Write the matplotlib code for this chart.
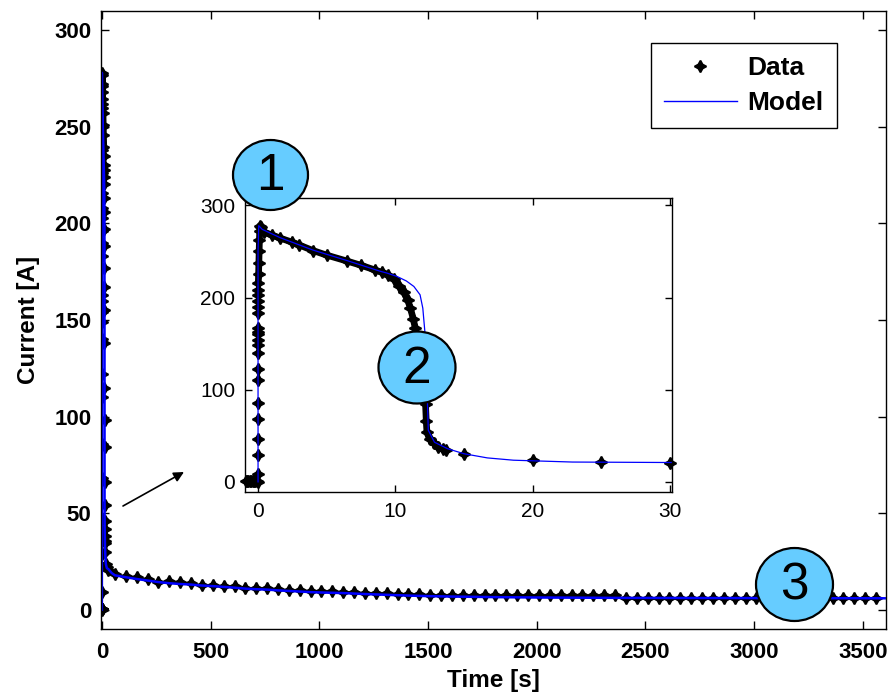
import numpy as np
import matplotlib
matplotlib.use("Agg")
import matplotlib.pyplot as plt
from matplotlib.patches import Ellipse, FancyArrowPatch

plt.rcParams["font.family"] = ["Liberation Sans", "DejaVu Sans"]

# ---- measured current during the discharge test ----
# start-up region (first 30 s)
t_start = [-0.9, -0.8, -0.7, -0.6, -0.5, -0.4, -0.3, -0.2, -0.1,
           0.0, 0.0, 0.0, 0.0, 0.0, 0.0, 0.0, 0.0, 0.0, 0.0, 0.0, 0.0, 0.0, 0.0,
           0.0, 0.0, 0.0, 0.0, 0.0,
           0.02, 0.04, 0.06, 0.08, 0.10, 0.12, 0.13]
i_start = [0.5, 0.5, 0.5, 0.5, 0.5, 0.5, 0.5, 0.5, 0.5,
           0.0, 9, 29, 47, 68, 86, 110, 122, 140, 149, 154, 160, 163, 167,
           183, 190, 196, 203, 208,
           216, 226, 238, 250, 262, 272, 278]
t_decay = [0.2, 0.4, 1.0, 1.6, 2.5, 3.0, 4.0, 5.0, 6.5, 7.5, 8.5, 9.0, 9.5,
           9.9, 10.3, 10.6, 10.9, 11.1, 11.3, 11.45, 11.6, 11.8, 12.0, 12.1,
           12.2, 12.25, 12.3, 12.5, 12.8, 13.1, 13.5, 13.7]
i_decay = [277, 271, 268, 264.5, 260, 257, 251, 246, 239.5, 235, 230, 227.5,
           224, 220.5, 213, 206, 197, 188.5, 177, 167, 155, 138, 115, 98,
           84, 66, 54, 46, 42, 38, 35.5, 34.4]
# slow tail, one sample every 50 s
t_tail = [15, 20, 25, 30] + list(range(60, 3600, 50))
i_tail = [29.7, 23.7, 21.9, 20.8,
          18.4, 17.6, 16.7, 15.9, 14.5, 14.6, 14.1, 13.8, 13.0, 13.0,
          12.4, 12.1, 11.3, 11.3, 11.3, 10.6, 10.4, 10.2, 9.8, 9.6,
          9.5, 9.4, 9.2, 8.6, 8.5, 8.4, 8.3, 8.2, 8.1, 7.6,
          7.5, 7.5, 7.4, 7.4, 7.4, 7.4, 7.4, 7.4, 7.4, 7.4,
          7.4, 7.4, 7.4, 7.4, 7.4, 7.4, 7.4, 6.1, 6.1, 6.1,
          6.1, 6.1, 6.1, 6.1, 6.0, 6.0, 6.0, 6.0, 6.0, 6.0,
          6.0, 6.0, 6.0, 6.0, 6.0, 6.0, 6.0, 6.0, 6.0, 6.0, 6.0]

# ---- simulated current ----
t_model = [0.0, 0.0, 0.05, 0.3, 1.6, 4.0, 6.5, 8.9, 9.4, 10.1, 10.8, 11.35,
           11.8, 12.0, 12.15, 12.25, 12.35, 12.4, 12.85, 13.8, 15.0, 16.7,
           18.6, 22.9, 30, 45, 60, 110, 160, 210, 260, 310, 360, 410, 460,
           510, 560, 610, 660, 710, 760, 810, 860, 910, 960, 1010, 1110,
           1210, 1310, 1410, 1510, 1610, 1810, 2010, 2410, 3000, 3600]
i_model = [0.0, 250, 278, 274, 265, 251.5, 240, 228.5, 226.5, 223, 218, 212,
           203, 188.5, 163, 120, 81, 56, 43, 36, 30.5, 26,
           23.5, 21.5, 21.0, 19.0, 17.8, 16.8, 15.9, 15.1, 14.3, 13.7, 13.3,
           13.0, 12.5, 12.2, 11.8, 11.4, 10.9, 10.6, 10.4, 10.0, 9.7, 9.4,
           9.1, 8.9, 8.6, 8.1, 7.7, 7.3, 7.0, 6.8, 6.5, 6.3, 6.1, 6.0, 5.9]

t_data = np.array(t_start + t_decay + t_tail, dtype=float)
i_data = np.array(i_start + i_decay + i_tail, dtype=float)
t_mod = np.array(t_model, dtype=float)
i_mod = np.array(i_model, dtype=float)

main_xticks = [0, 500, 1000, 1500, 2000, 2500, 3000, 3500]
main_yticks = [0, 50, 100, 150, 200, 250, 300]
inset_xticks = [0, 10, 20, 30]
inset_yticks = [0, 100, 200, 300]

W, H = 892, 698
fig = plt.figure(figsize=(W / 100, H / 100), dpi=100)

star = (4, 1, 0)
mk = dict(marker=star, markersize=8.5, color="black", markeredgewidth=1.3,
          linestyle="none")

# densely sampled stretch of the record, drawn as a solid trace
band = (t_data >= 0.02) & (t_data <= 13.7)

# ---------------- main axes ----------------
ax = fig.add_axes([101 / W, 1 - 629 / H, 785 / W, 618 / H])
top = band & (i_data >= 238)
ax.plot(t_data[top], i_data[top], color="black", lw=5.5,
        solid_capstyle="round")
ax.plot(t_data, i_data, label="Data", **mk)
ax.plot(t_mod, i_mod, color="#0000ff", lw=1.8, label="Model")
ax.set_xlim(-4, 3606)
ax.set_ylim(-10, 310)
ax.set_xticks(main_xticks)
ax.set_yticks(main_yticks)
ax.tick_params(direction="in", length=6, width=1, top=True, right=True,
               labelsize=16, pad=7)
ax.tick_params(axis="x", pad=9)
for lab in ax.get_xticklabels() + ax.get_yticklabels():
    lab.set_fontweight("bold")
ax.set_xlabel("Time [s]", fontsize=17.5, fontweight="bold", labelpad=5)
ax.set_ylabel("Current [A]", fontsize=17.5, fontweight="bold", labelpad=10)
for s in ax.spines.values():
    s.set_linewidth(1.0)

handles, labels = ax.get_legend_handles_labels()
leg = fig.legend(handles, labels, loc="upper right",
                 bbox_to_anchor=(837 / W, 1 - 43 / H),
                 prop=dict(size=19, weight="bold"), handlelength=2.75,
                 handletextpad=0.42, labelspacing=0.42, borderpad=0.5,
                 borderaxespad=0, fancybox=False, framealpha=1,
                 edgecolor="black")
leg.get_frame().set_linewidth(1.0)
leg.get_lines()[1].set_linewidth(1.0)

# ---------------- inset ----------------
axi = fig.add_axes([245 / W, 1 - 492 / H, 427 / W, 294 / H])
axi.plot(t_data[band], i_data[band], color="black", lw=4.8,
         solid_capstyle="round", solid_joinstyle="round")
keep = t_data <= 30
axi.plot(t_data[keep], i_data[keep], clip_on=False, **mk)
axi.plot(t_mod, i_mod, color="#0000ff", lw=0.9)
axi.set_xlim(-0.95, 30.15)
axi.set_ylim(-11, 308)
axi.set_xticks(inset_xticks)
axi.set_yticks(inset_yticks)
axi.tick_params(direction="in", length=5, width=1, top=True, right=True,
                labelsize=15, pad=7)
for s in axi.spines.values():
    s.set_linewidth(1.0)

# ---------------- numbered callouts ----------------
callouts = [("1", 270.5, 175, 75, 70), ("2", 417, 367.5, 77, 72),
            ("3", 794.5, 584.5, 77, 73)]
for txt, cx, cy, w, h in callouts:
    fig.add_artist(Ellipse((cx / W, 1 - cy / H), w / W, h / H,
                           transform=fig.transFigure, facecolor="#66ccff",
                           edgecolor="black", lw=1.6, zorder=10))
    fig.text(cx / W, 1 - (cy + 2) / H, txt, ha="center", va="center",
             fontsize=37, zorder=11)

# arrow pointing to the zoomed view
fig.add_artist(FancyArrowPatch(
    (123 / W, 1 - 506 / H), (184 / W, 1 - 472 / H),
    transform=fig.transFigure, arrowstyle="-|>", mutation_scale=15,
    color="black", lw=1.2, shrinkA=0, shrinkB=0, zorder=9))

fig.savefig("out.png", dpi=100)
